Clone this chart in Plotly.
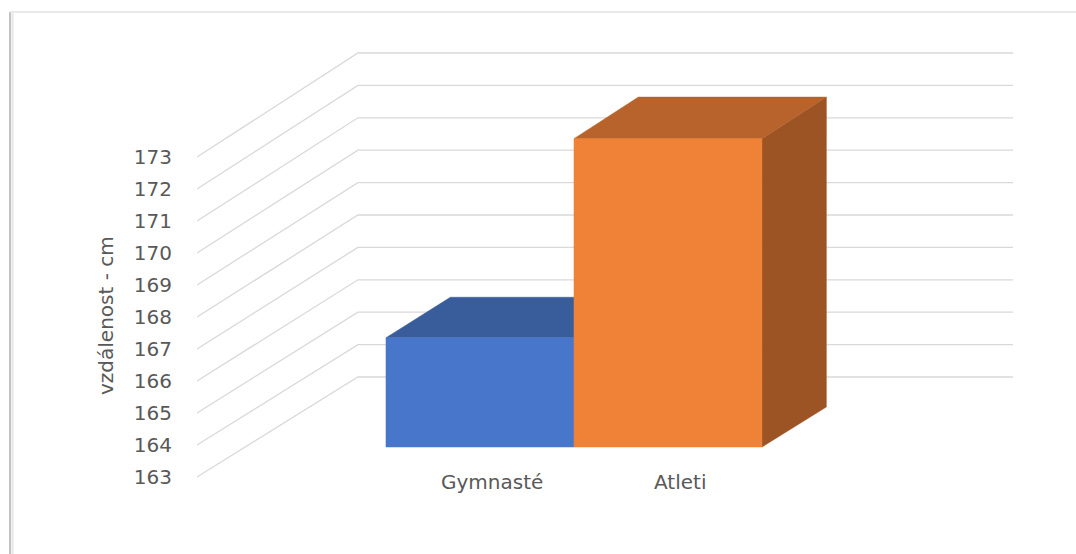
import plotly.graph_objects as go

# ---------------- data ----------------
categories = ["Gymnasté", "Atleti"]
values = [166.4, 172.6]
tick_values = [163, 164, 165, 166, 167, 168, 169, 170, 171, 172, 173]
tick_labels = [str(v) for v in tick_values]
axis_title = "vzdálenost - cm"

# ---------------- style / geometry ----------------
front_colors = ["#4876CA", "#EF8236"]
top_colors = ["#395D9B", "#B8632B"]
side_colors = ["#2F4F86", "#9C5424"]
grid_color = "#D9D9D9"
text_color = "#595959"
FONT = "DejaVu Sans"

W, H = 1076, 554
ML, MR, MT, MB = 197, 63, 40, 54
BASE = tick_values[0]
Y_RANGE = [162.281, 176.656]
X_RANGE = [-1.2484, 3.0920]
DX = 0.856      # horizontal shift (x units) across full depth
DY = 3.125      # vertical shift (value units) across full depth
K = 0.0125      # slight perspective growth with depth
FLOOR_L, FLOOR_R = -1.2484, 2.236
D0, D1 = 0.3, 0.7  # bar depth extent
HALF = 0.5


def proj(xf, v, d):
    return xf + d * DX, BASE + (v - BASE) * (1 + K * d) + d * DY


def poly(pts):
    xs = [p[0] for p in pts] + [pts[0][0]]
    ys = [p[1] for p in pts] + [pts[0][1]]
    return xs, ys


fig = go.Figure()

# gridlines: left wall diagonals + back wall horizontals
gx, gy = [], []
for v in tick_values:
    a = proj(FLOOR_L, v, 0)
    b = proj(FLOOR_L, v, 1)
    c = proj(FLOOR_R, v, 1)
    gx += [a[0], b[0], c[0], None]
    gy += [a[1], b[1], c[1], None]
fig.add_trace(go.Scatter(x=gx, y=gy, mode="lines",
                         line=dict(color=grid_color, width=1.3),
                         hoverinfo="skip", showlegend=False))

# 3D bars
for i, (cat, val) in enumerate(zip(categories, values)):
    l, r = i - HALF, i + HALF
    # right side face
    side = [proj(r, BASE, D0), proj(r, BASE, D1), proj(r, val, D1), proj(r, val, D0)]
    # top face
    top = [proj(l, val, D0), proj(l, val, D1), proj(r, val, D1), proj(r, val, D0)]
    # front face
    front = [proj(l, BASE, D0), proj(r, BASE, D0), proj(r, val, D0), proj(l, val, D0)]
    for pts, col in ((side, side_colors[i]), (top, top_colors[i]), (front, front_colors[i])):
        xs, ys = poly(pts)
        fig.add_trace(go.Scatter(x=xs, y=ys, mode="lines", fill="toself",
                                 fillcolor=col, line=dict(color=col, width=0.5),
                                 hoverinfo="skip", showlegend=False, name=cat))
    fig.add_annotation(x=i + 0.32, y=BASE - 0.16, xref="x", yref="y",
                       text=cat, showarrow=False, xanchor="center", yanchor="middle",
                       font=dict(family=FONT, size=20, color=text_color))

# axis title
PW, PH = W - ML - MR, H - MT - MB


def px(xpix):
    return (xpix - ML) / PW


def py(ypix):
    return (H - MB - ypix) / PH


fig.add_annotation(x=px(106), y=py(316), xref="paper", yref="paper",
                   text=axis_title, textangle=-90, showarrow=False,
                   xanchor="center", yanchor="middle",
                   font=dict(family=FONT, size=20, color=text_color))

# chart frame with soft shadow
fig.add_shape(type="line", xref="paper", yref="paper",
              x0=px(12.5), x1=px(12.5), y0=py(13), y1=py(560),
              line=dict(color="#E6E6E6", width=2))
fig.add_shape(type="line", xref="paper", yref="paper",
              x0=px(10), x1=px(10), y0=py(12), y1=py(560),
              line=dict(color="#C2C2C2", width=2))
fig.add_shape(type="line", xref="paper", yref="paper",
              x0=px(10), x1=px(1080), y0=py(12), y1=py(12),
              line=dict(color="#E2E2E2", width=1.5))

fig.update_layout(
    width=W, height=H,
    margin=dict(l=ML, r=MR, t=MT, b=MB, pad=0),
    paper_bgcolor="white", plot_bgcolor="white",
    showlegend=False,
    xaxis=dict(range=X_RANGE, visible=False, fixedrange=True),
    yaxis=dict(range=Y_RANGE, tickmode="array", tickvals=tick_values,
               ticktext=tick_labels, showgrid=False, zeroline=False,
               showline=False, ticks="", ticklabelstandoff=24,
               tickfont=dict(family=FONT, size=20, color=text_color),
               fixedrange=True),
)

fig.write_html("out.html")
